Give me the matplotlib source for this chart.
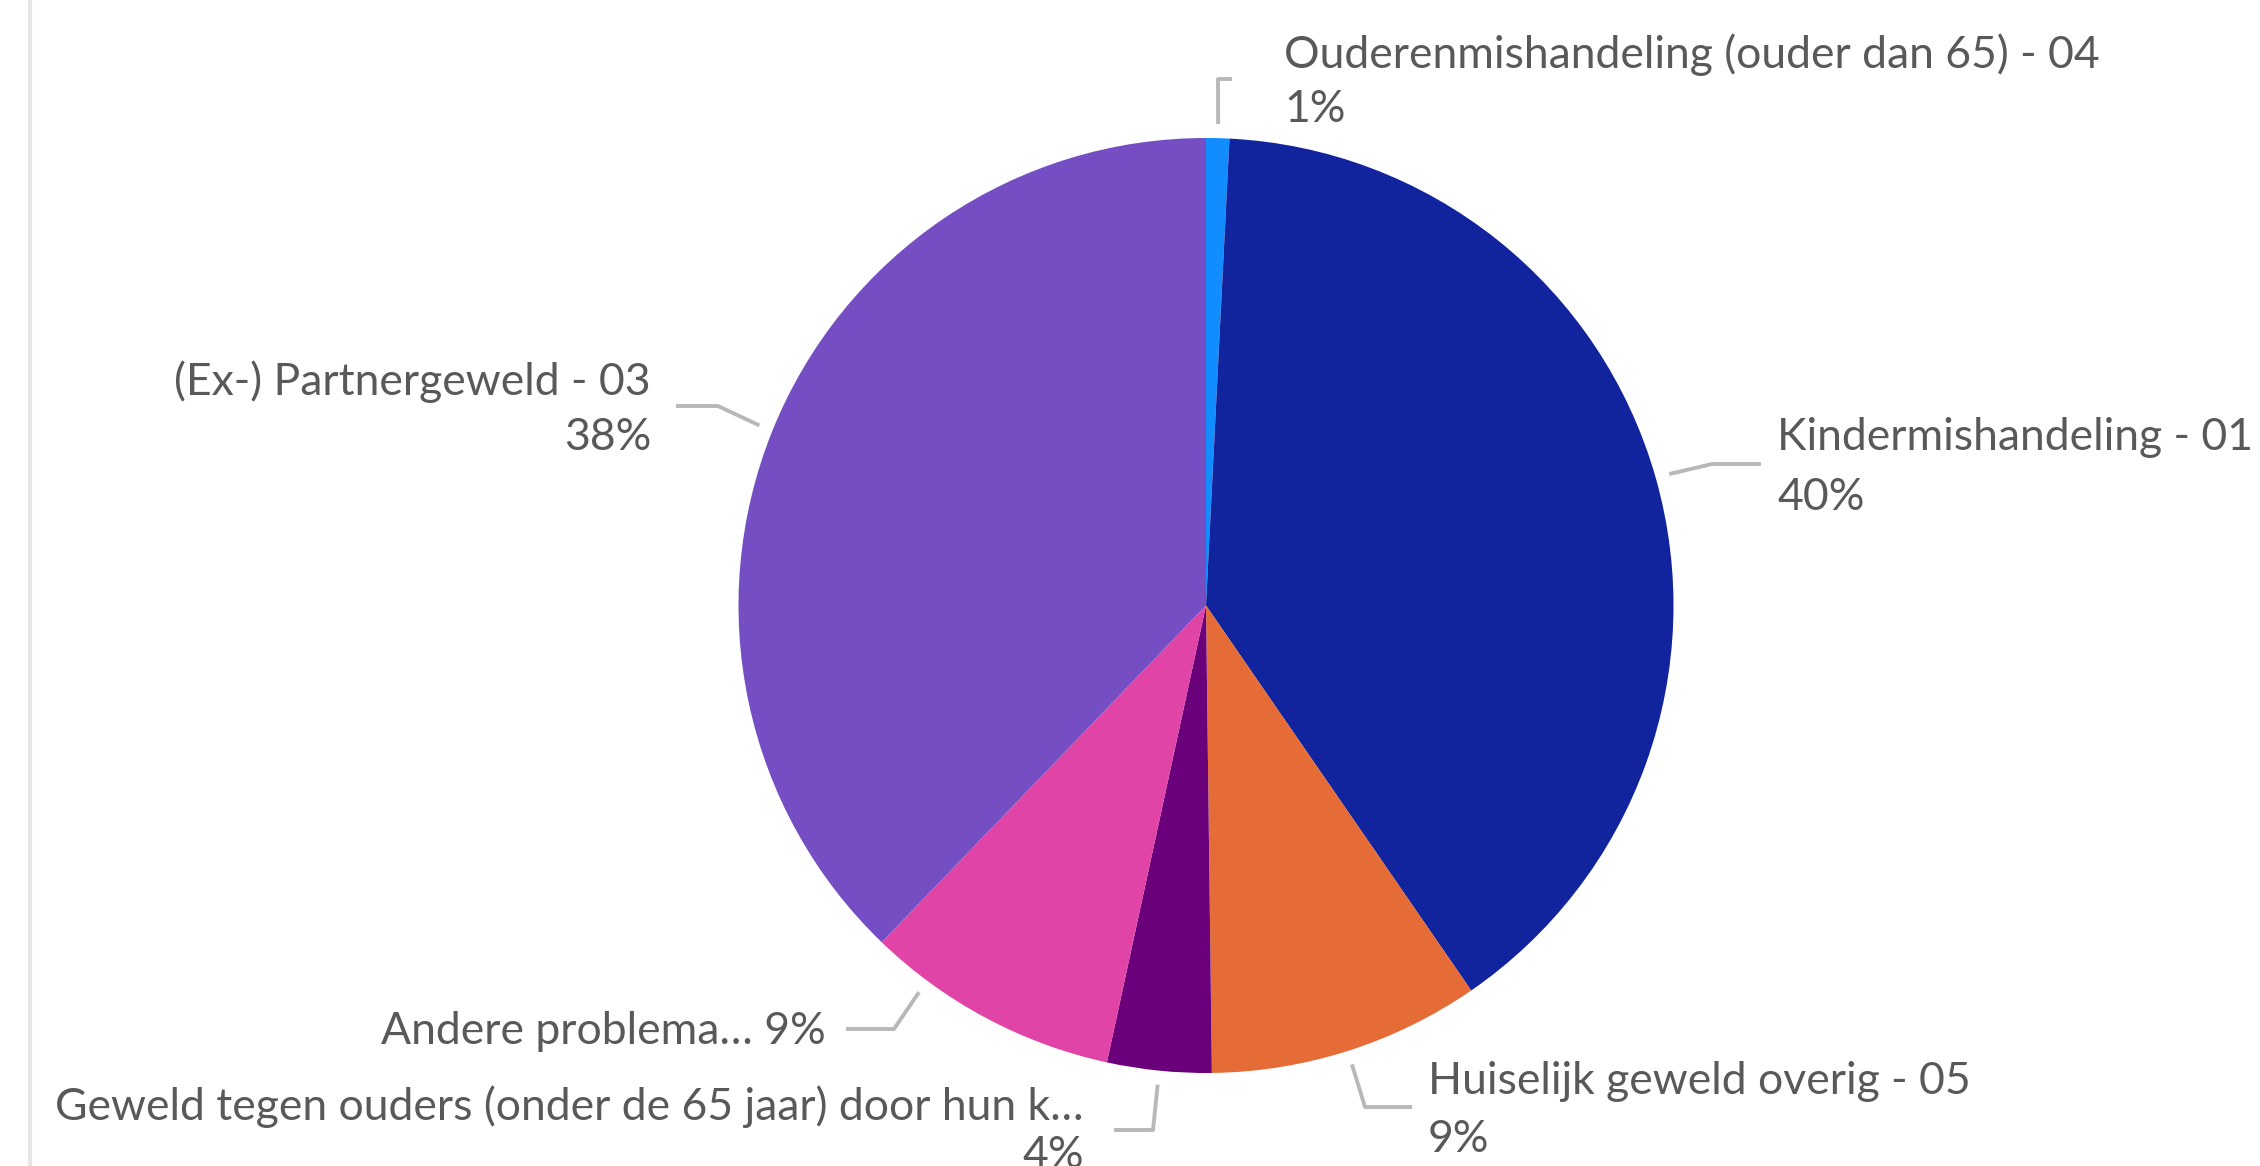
import numpy as np
import matplotlib
matplotlib.use("Agg")
import matplotlib.pyplot as plt
from matplotlib.lines import Line2D

# ---- data ----
categories = [
    "Ouderenmishandeling (ouder dan 65) - 04",
    "Kindermishandeling - 01",
    "Huiselijk geweld overig - 05",
    "Geweld tegen ouders (onder de 65 jaar) door hun k\u2026",
    "Andere problema\u2026",
    "(Ex-) Partnergeweld - 03",
]
values = [0.8, 39.6, 9.4, 3.6, 8.8, 37.8]
colors = ["#118DFF", "#12239E", "#E66C37", "#6B007B", "#E044A7", "#744EC2"]

W, H = 2260, 1166
fig = plt.figure(figsize=(W / 100, H / 100), dpi=100)
ax = fig.add_axes([0, 0, 1, 1])
ax.set_xlim(0, W)
ax.set_ylim(0, H)
ax.set_aspect("equal")
ax.axis("off")

cx, cy, R = 1206, H - 605.5, 467.5
wedges, _ = ax.pie(values, colors=colors, startangle=90, counterclock=False,
                   center=(cx, cy), radius=R, frame=True,
                   wedgeprops=dict(linewidth=0))
ax.set_xlim(0, W)
ax.set_ylim(0, H)
ax.axis("off")

# left border line
ax.add_line(Line2D([30, 30], [0, H], color="#E6E6E6", lw=3))

txt_color = "#595959"
lead_color = "#B8B8B8"
fam = ["Lato", "DejaVu Sans"]
fs = 32

# label layout (image pixel coords): leader elbow/end points, text anchor, line y's
layout = [
    dict(pts=[(1218, 79), (1232, 79)], tx=1284, ty=[55, 110], ha="left", single=False),
    dict(pts=[(1712, 464), (1761, 464)], tx=1777, ty=[437, 497], ha="left", single=False),
    dict(pts=[(1365, 1107), (1412, 1107)], tx=1428, ty=[1081, 1139], ha="left", single=False),
    dict(pts=[(1153, 1130), (1114, 1130)], tx=1084, ty=[1107, 1156], ha="right", single=False),
    dict(pts=[(894, 1029), (846, 1029)], tx=826, ty=[1031], ha="right", single=True,
         angle_shift=-8.5),
    dict(pts=[(718, 406), (676, 406)], tx=651, ty=[382, 438], ha="right", single=False),
]

for w, cat, v, lay in zip(wedges, categories, values, layout):
    ang = np.deg2rad((w.theta1 + w.theta2) / 2 + lay.get("angle_shift", 0))
    r0 = R * 1.03
    x0, y0 = cx + r0 * np.cos(ang), cy + r0 * np.sin(ang)
    xs = [x0] + [p[0] for p in lay["pts"]]
    ys = [y0] + [H - p[1] for p in lay["pts"]]
    ax.add_line(Line2D(xs, ys, color=lead_color, lw=2.8, solid_capstyle="butt"))
    pct = f"{round(v):d}%"
    if lay["single"]:
        ax.text(lay["tx"], H - lay["ty"][0], f"{cat} {pct}", ha=lay["ha"], va="center",
                fontsize=fs, color=txt_color, family=fam)
    else:
        ax.text(lay["tx"], H - lay["ty"][0], cat, ha=lay["ha"], va="center",
                fontsize=fs, color=txt_color, family=fam)
        ax.text(lay["tx"], H - lay["ty"][1], pct, ha=lay["ha"], va="center",
                fontsize=fs, color=txt_color, family=fam)

fig.savefig("out.png", dpi=100, facecolor="white")
